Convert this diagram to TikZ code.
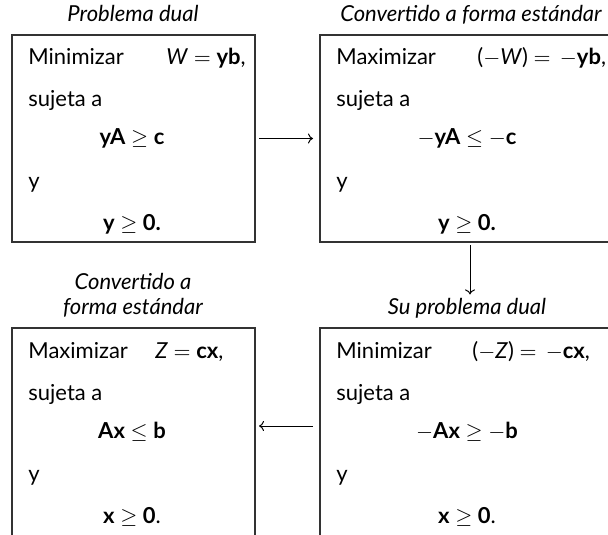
\documentclass[tikz,border=0pt]{standalone}
\usepackage{fontspec}
\setmainfont{Lato}
\usetikzlibrary{calc, arrows.meta}
\tikzset{
	marco/.style={draw=black!80, line width=1pt, inner sep=0pt, minimum height=103.5pt, anchor=north west},
	linea/.style={anchor=base west, inner sep=0pt},
	formula/.style={anchor=base, inner sep=0pt},
	titulo/.style={anchor=base, inner sep=0pt, font=\fontsize{11}{13}\selectfont\itshape},
	flecha/.style={-{To[length=2.5pt, width=5pt]}, line width=0.5pt}
}
\begin{document}
\begin{tikzpicture}[x=0.5pt, y=-0.5pt, font=\fontsize{11}{13}\selectfont]
		\useasboundingbox (0,0) rectangle (608,534);
		\clip (0,0) rectangle (608,534);
		\node [titulo] (t-dual) at (133,22) {Problema dual};
		\node [titulo] (t-dualest) at (471,22) {Convertido a forma estándar};
		\node [titulo] (t-primalest1) at (133,289) {Convertido a};
		\node [titulo] (t-primalest2) at (133,314) {forma estándar};
		\node [titulo] (t-primal) at (467,314) {Su problema dual};
		\node [marco, minimum width=121.5pt] (dual) at (11,34) {};
		\node [marco, minimum width=150pt] (dualest) at (319,34) {};
		\node [marco, minimum width=121.5pt, minimum height=110pt] (primalest) at (11,327) {};
		\node [marco, minimum width=150pt, minimum height=110pt] (primal) at (319,327) {};
		\node [linea] (dual-1) at (28,65) {Minimizar};
		\node [linea] (dual-w) at (166,65) {\textit{W} $=$ \textbf{yb},};
		\node [linea] (dual-2) at (28,107) {sujeta a};
		\node [formula] (dual-3) at (132,145) {\textbf{yA} $\geq$ \textbf{c}};
		\node [linea] (dual-4) at (28,188) {y};
		\node [formula] (dual-5) at (132,230) {\textbf{y} $\geq$ \textbf{0.}};
		\node [linea] (dualest-1) at (336,65) {Maximizar};
		\node [linea] (dualest-w) at (477,65) {($-$\textit{W}) $=$\, $-$\textbf{yb},};
		\node [linea] (dualest-2) at (336,107) {sujeta a};
		\node [formula] (dualest-3) at (467,145) {$-$\textbf{yA} $\leq$ $-$\textbf{c}};
		\node [linea] (dualest-4) at (336,188) {y};
		\node [formula] (dualest-5) at (467,230) {\textbf{y} $\geq$ \textbf{0.}};
		\node [linea] (primalest-1) at (28,358) {Maximizar};
		\node [linea] (primalest-z) at (155,358) {\textit{Z} $=$ \textbf{cx},};
		\node [linea] (primalest-2) at (28,400) {sujeta a};
		\node [formula] (primalest-3) at (132,438) {\textbf{Ax} $\leq$ \textbf{b}};
		\node [linea] (primalest-4) at (28,481) {y};
		\node [formula] (primalest-5) at (132,523) {\textbf{x} $\geq$ \textbf{0}.};
		\node [linea] (primal-1) at (336,358) {Minimizar};
		\node [linea] (primal-z) at (472,358) {($-$\textit{Z}) $=$\, $-$\textbf{cx},};
		\node [linea] (primal-2) at (336,400) {sujeta a};
		\node [formula] (primal-3) at (467,438) {$-$\textbf{Ax} $\geq$ $-$\textbf{b}};
		\node [linea] (primal-4) at (336,481) {y};
		\node [formula] (primal-5) at (467,523) {\textbf{x} $\geq$ \textbf{0}.};
		\draw [flecha, shorten <=1.5pt, shorten >=3pt] (dual.east) -- (dualest.west);
		\draw [flecha, shorten <=1pt, shorten >=1.5pt] (dualest.south) -- (dualest.south |- t-primal.north);
		\draw [flecha, shorten <=3pt, shorten >=1.5pt] ($(primal.north west)+(0,99)$) -- ($(primalest.north east)+(0,99)$);
\end{tikzpicture}
\end{document}
